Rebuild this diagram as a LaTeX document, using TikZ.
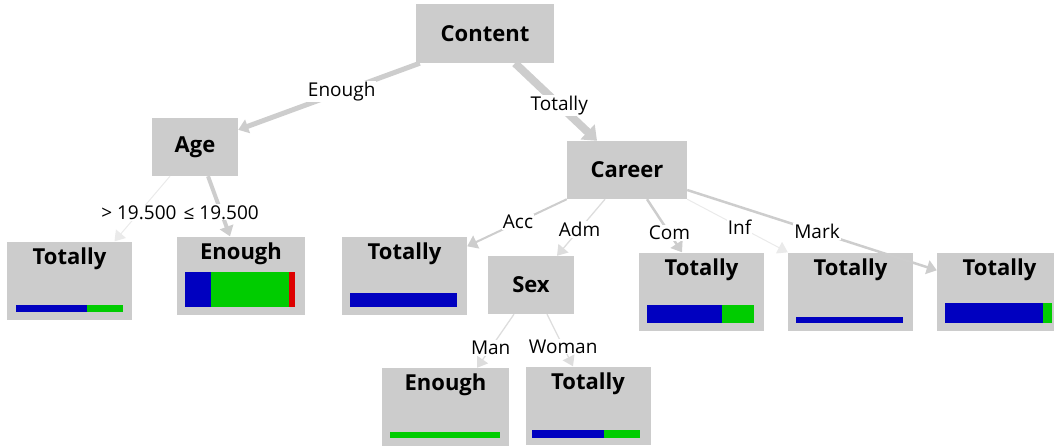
\documentclass[tikz,border=0pt]{standalone}
\usepackage{fontspec}
\setmainfont{Open Sans}
\usetikzlibrary{arrows.meta}

\definecolor{boxgray}{HTML}{CCCCCC}
\definecolor{edgegray}{HTML}{CDCDCD}
\definecolor{lightgray}{HTML}{DDDDDD}
\definecolor{faintgray}{HTML}{EAEAEA}
\definecolor{cblue}{HTML}{0000C0}
\definecolor{cgreen}{HTML}{00CC00}
\definecolor{cred}{HTML}{DD0000}

\tikzset{
  split/.style={fill=boxgray, inner sep=0pt, minimum height=58pt,
    font=\fontsize{22}{26}\selectfont\bfseries},
  leaf/.style={fill=boxgray, inner xsep=0pt, inner ysep=1.5pt,
    minimum width=125pt, text height=21pt, text depth=54pt,
    font=\fontsize{22}{26}\selectfont\bfseries},
  branch/.style={draw=edgegray, -{Triangle[length=10pt,width=14pt]}},
  thin branch/.style={draw=lightgray, line width=1.3pt, -{Triangle[length=10pt,width=13pt]}},
  faint branch/.style={draw=faintgray, line width=1pt, -{Triangle[length=10pt,width=13pt]}},
  cond/.style={fill=white, inner sep=1pt, font=\fontsize{19}{22}\selectfont},
}

\begin{document}
\begin{tikzpicture}[x=1pt, y=-1pt]
  \useasboundingbox (0,0) rectangle (1054,447);

  %Define split nodes
  \node[split, minimum width=138pt, minimum height=59pt] (content) at (485,33.5) {Content};
  \node[split, minimum width=86pt]  (age)     at (195,147) {Age};
  \node[split, minimum width=120pt] (career)  at (627,170) {Career};
  \node[split, minimum width=86pt]  (sex)     at (531,285) {Sex};

  %Define leaf nodes
  \node[leaf] (older)   at (69.5,280.5) {Totally};
  \node[leaf, minimum width=128pt] (younger) at (241,275.5) {Enough};
  \node[leaf] (acc)     at (404.5,275.5) {Totally};
  \node[leaf] (com)     at (701.5,291.5) {Totally};
  \node[leaf] (inf)     at (850.5,291.5) {Totally};
  \node[leaf] (mark)    at (999.5,291.5) {Totally};
  \node[leaf, minimum width=127pt] (man) at (445.5,407) {Enough};
  \node[leaf] (woman)   at (588,405.5) {Totally};

  % Connect the nodes
  \draw[branch, line width=5pt] ([xshift=4pt]content.south west) -- node[cond, pos=0.43] {Enough} ([yshift=-12pt]age.north east);
  \draw[branch, line width=8pt, -{Triangle[length=13pt,width=20pt]}] ([xshift=30pt]content.south) -- node[cond, pos=0.54] {Totally} ([xshift=-30pt]career.north);

  \draw[faint branch] ([xshift=-25pt]age.south) -- node[cond, pos=0.56] {> 19.500} ([xshift=45pt]older.north);
  \draw[branch, line width=4pt] ([xshift=13pt]age.south) -- node[cond, pos=0.6] {≤ 19.500} ([xshift=-11pt]younger.north);

  \draw[branch, line width=2pt] (career.south west) -- node[cond, pos=0.49] {Acc} ([yshift=-10pt]acc.north east);
  \draw[thin branch] ([xshift=-22pt]career.south) -- node[cond, pos=0.53] {Adm} ([xshift=26pt]sex.north);
  \draw[branch, line width=2.5pt] ([xshift=20pt]career.south) -- node[cond, pos=0.64] {Com} ([xshift=-19.5pt]com.north);
  \draw[faint branch] (career.south east) -- node[cond, pos=0.52] {Inf} (inf.north west);
  \draw[branch, line width=2.5pt] ([yshift=-20pt]career.east) -- node[cond, pos=0.52] {Mark} ([yshift=-18pt]mark.north west);

  \draw[thin branch] ([xshift=-17pt]sex.south) -- node[cond, pos=0.63] {Man} ([xshift=31.5pt]man.north);
  \draw[thin branch] ([xshift=16pt]sex.south) -- node[cond, pos=0.62] {Woman} ([xshift=-15pt]woman.north);

  % Class bars
  \fill[cblue]  ([shift={(9pt,8pt)}]older.south west) rectangle ++(71pt,7pt);
  \fill[cgreen] ([shift={(80pt,8pt)}]older.south west) rectangle ++(36pt,7pt);

  \fill[cblue]  ([shift={(8pt,8pt)}]younger.south west) rectangle ++(26pt,35pt);
  \fill[cgreen] ([shift={(34pt,8pt)}]younger.south west) rectangle ++(78pt,35pt);
  \fill[cred]   ([shift={(112pt,8pt)}]younger.south west) rectangle ++(6pt,35pt);

  \fill[cblue]  ([shift={(8pt,8pt)}]acc.south west) rectangle ++(107pt,14pt);

  \fill[cblue]  ([shift={(8pt,8pt)}]com.south west) rectangle ++(75pt,18pt);
  \fill[cgreen] ([shift={(83pt,8pt)}]com.south west) rectangle ++(32pt,18pt);

  \fill[cblue]  ([shift={(8pt,8pt)}]inf.south west) rectangle ++(107pt,6pt);

  \fill[cblue]  ([shift={(8pt,8pt)}]mark.south west) rectangle ++(98pt,20pt);
  \fill[cgreen] ([shift={(106pt,8pt)}]mark.south west) rectangle ++(9pt,20pt);

  \fill[cgreen] ([shift={(8pt,8pt)}]man.south west) rectangle ++(110pt,6pt);

  \fill[cblue]  ([shift={(7pt,7pt)}]woman.south west) rectangle ++(72pt,8pt);
  \fill[cgreen] ([shift={(79pt,7pt)}]woman.south west) rectangle ++(36pt,8pt);

\end{tikzpicture}
\end{document}
